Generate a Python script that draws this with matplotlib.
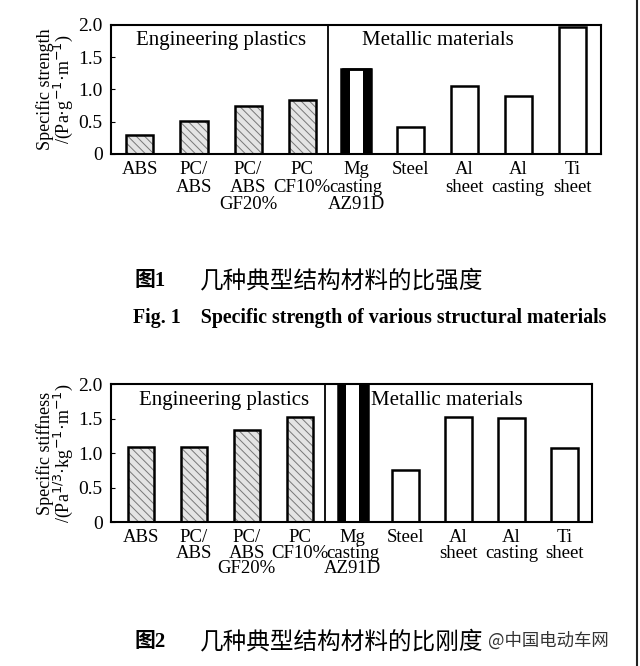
import matplotlib
matplotlib.use("Agg")
import matplotlib.pyplot as plt
from matplotlib.lines import Line2D

plt.rcParams['font.family'] = ['Liberation Serif', 'Noto Sans CJK SC']
plt.rcParams['hatch.linewidth'] = 0.7
plt.rcParams['hatch.color'] = '#777777'

materials = ["ABS", "PC/\nABS", "PC/\nABS\nGF20%", "PC\nCF10%", "Mg\ncasting\nAZ91D",
             "Steel", "Al\nsheet", "Al\ncasting", "Ti\nsheet"]
strength = [0.29, 0.51, 0.74, 0.84, 1.32, 0.42, 1.05, 0.90, 1.97]
stiffness = [1.08, 1.08, 1.33, 1.52, 2.50, 0.75, 1.52, 1.51, 1.07]
yticks = [0, 0.5, 1.0, 1.5, 2.0]
ytick_labels = ["0", "0.5", "1.0", "1.5", "2.0"]
n_plastic = 4

fig = plt.figure(figsize=(6.4, 6.66), dpi=100)
ax1 = fig.add_axes([0.1734, 0.7688, 0.7656, 0.1937])
ax2 = fig.add_axes([0.1734, 0.2162, 0.7516, 0.2072])


def draw(ax, values, ylabel, xlim, lsp, eng_x, met_x):
    x = list(range(len(values)))
    px, pv = x[:n_plastic], values[:n_plastic]
    # hatched plastics
    ax.bar(px, pv, width=0.5, color='#e4e4e4', hatch='\\\\\\\\', edgecolor='#777777', linewidth=0)
    ax.bar(px, pv, width=0.5, fill=False, edgecolor='black', linewidth=1.8)
    # metals
    mx, mv = x[n_plastic:], values[n_plastic:]
    ax.bar(mx, mv, width=0.5, color='white', edgecolor='black', linewidth=1.8)
    # Mg bar with thick black sides
    mg = n_plastic
    ax.bar([mg - 0.2], [values[mg]], width=0.16, color='black', linewidth=0)
    ax.bar([mg + 0.2], [values[mg]], width=0.16, color='black', linewidth=0)
    ax.bar([mg], [values[mg]], width=0.56, fill=False, edgecolor='black', linewidth=1.8)

    ax.axvline(n_plastic - 0.52, color='black', linewidth=1.3)
    ax.set_xlim(*xlim)
    ax.set_ylim(0, 2.0)
    ax.set_yticks(yticks)
    ax.set_yticklabels(ytick_labels, fontsize=14)
    ax.set_xticks(x)
    ax.set_xticklabels(materials, fontsize=13.5, linespacing=lsp)
    ax.tick_params(axis='x', length=0, pad=5)
    ax.tick_params(axis='y', direction='in', length=3, pad=6)
    for s in ax.spines.values():
        s.set_linewidth(1.5)
    ax.set_ylabel(ylabel, fontsize=13, linespacing=0.9, labelpad=2)
    ax.text(eng_x, 1.76, "Engineering plastics", ha='center', va='center', fontsize=15)
    ax.text(met_x, 1.76, "Metallic materials", ha='center', va='center', fontsize=15)


draw(ax1, strength, "Specific strength\n/(Pa·g$^{-1}$·m$^{-1}$)", (-0.536, 8.53), 1.05, 1.5, 5.51)
draw(ax2, stiffness, "Specific stiffness\n/(Pa$^{1/3}$·kg$^{-1}$·m$^{-1}$)", (-0.567, 8.52), 0.9, 1.57, 5.77)

fig.text(135 / 640, 1 - 281 / 666, "图1", fontsize=15, ha='left', va='center', fontweight='bold')
fig.text(200 / 640, 1 - 281 / 666, "几种典型结构材料的比强度", fontsize=17, ha='left', va='center')
fig.text(133 / 640, 1 - 318 / 666, "Fig. 1    Specific strength of various structural materials",
         fontsize=14.3, ha='left', va='center', fontweight='bold')
fig.text(135 / 640, 1 - 642 / 666, "图2", fontsize=15, ha='left', va='center', fontweight='bold')
fig.text(200 / 640, 1 - 642 / 666, "几种典型结构材料的比刚度", fontsize=17, ha='left', va='center')
fig.text(488 / 640, 1 - 641 / 666, "@中国电动车网", fontsize=12.5, ha='left', va='center',
         color='#333333', family=['Noto Sans CJK SC'])

fig.add_artist(Line2D([636.5 / 640, 636.5 / 640], [0, 1], color='#222222', linewidth=1.5))

fig.savefig("out.png", dpi=100, facecolor='white')
